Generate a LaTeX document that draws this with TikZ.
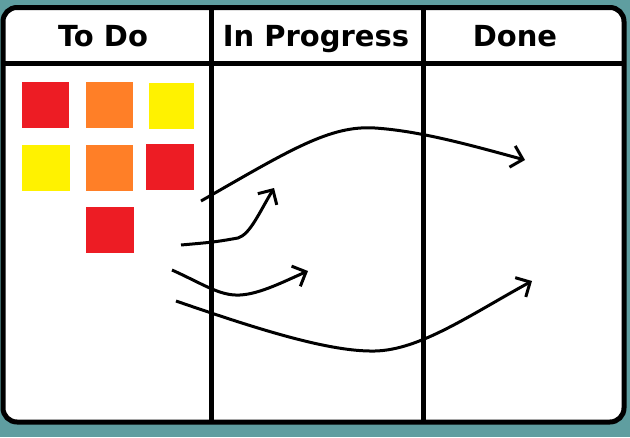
\documentclass[tikz,border=0pt]{standalone}
\usepackage{fontspec}
\setmainfont{DejaVu Sans}
\usetikzlibrary{arrows.meta}
\definecolor{teal0}{RGB}{95,158,160}
\definecolor{sred}{RGB}{237,28,36}
\definecolor{sorange}{RGB}{255,127,39}
\definecolor{syellow}{RGB}{255,242,0}
\tikzset{
  board/.style={draw=black, line width=5pt, fill=white, rounded corners=14pt},
  divider/.style={draw=black, line width=5pt},
  header/.style={anchor=base, inner sep=0pt, font=\fontsize{29}{30}\selectfont\bfseries},
  sticky/.style={draw=none, minimum width=47pt, minimum height=46pt, inner sep=0pt, anchor=north west},
  move/.style={draw=black, line width=3pt, -{Straight Barb[length=11pt,width=22pt]}}
}
\begin{document}
\begin{tikzpicture}[x=1pt,y=-1pt]
\useasboundingbox (0,0) rectangle (630,437);
\fill[teal0] (0,0) rectangle (630,437);
\draw[board] (3,7.5) rectangle (624,422);
\draw[divider] (3,63) -- (624,63);
\draw[divider] (211,7.5) -- (211,422);
\draw[divider] (423,7.5) -- (423,422);
\node[header] (todo) at (103,46) {To Do};
\node[header] (prog) at (316,46) {In Progress};
\node[header] (done) at (515,46) {Done};
% sticky notes
\node[sticky, fill=sred] (s1) at (22,82) {};
\node[sticky, fill=sorange] (s2) at (86,82) {};
\node[sticky, fill=syellow, minimum width=45pt] (s3) at (149,83) {};
\node[sticky, fill=syellow, minimum width=48pt] (s4) at (22,145) {};
\node[sticky, fill=sorange] (s5) at (86,145) {};
\node[sticky, fill=sred, minimum width=48pt] (s6) at (146,144) {};
\node[sticky, fill=sred, minimum width=48pt] (s7) at (86,207) {};
% arrows
\coordinate (a1s) at (201,201);
\coordinate (a1m) at (375,128);
\coordinate (a1e) at (525,160);
\coordinate (a2s) at (181,245);
\coordinate (a2m) at (238,238);
\coordinate (a2e) at (274,188);
\coordinate (a3s) at (172,270);
\coordinate (a3m) at (240,295);
\coordinate (a3e) at (308,271);
\coordinate (a4s) at (176,301);
\coordinate (a4m) at (375,351);
\coordinate (a4e) at (532,281);
\draw[move] (a1s) .. controls (290,150) and (330,125) .. (a1m) .. controls (420,131) and (470,145) .. (a1e);
\draw[move] (a2s) .. controls (215,242) .. (a2m) .. controls (250,234) and (258,215) .. (a2e);
\draw[move] (a3s) .. controls (205,285) and (220,296) .. (a3m) .. controls (260,294) and (285,281) .. (a3e);
\draw[move] (a4s) .. controls (260,330) and (330,352) .. (a4m) .. controls (420,350) and (470,315) .. (a4e);
\end{tikzpicture}
\end{document}
